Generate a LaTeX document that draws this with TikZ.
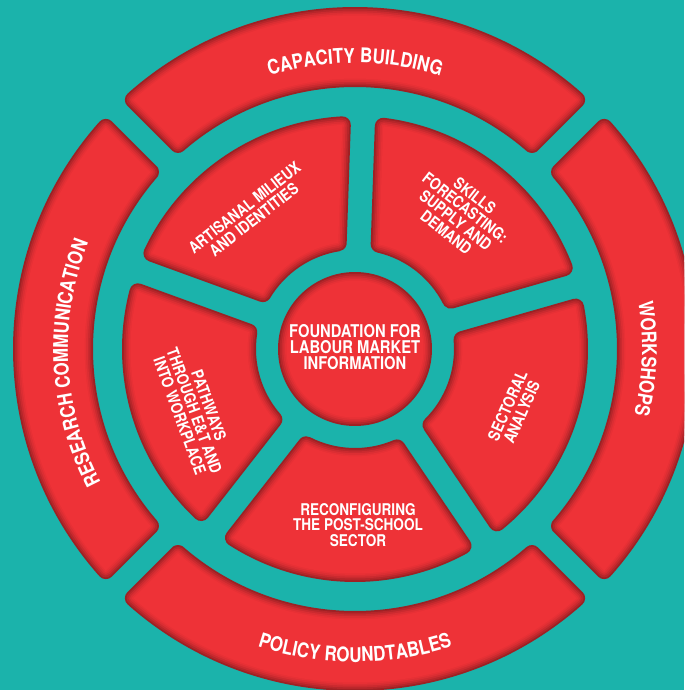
\documentclass[tikz,border=0pt]{standalone}
\usepackage{fontspec}
\setmainfont{TeX Gyre Heros}[FakeStretch=0.84]
\usetikzlibrary{decorations.text}

\definecolor{wheelteal}{HTML}{1BB3AB}
\definecolor{wheelred}{HTML}{EE3237}

\newcommand{\bandfont}{\fontsize{11.5}{12}\selectfont\bfseries}
\newcommand{\hubfont}{\fontsize{9.2}{8.8}\selectfont\bfseries}
\newcommand{\corefont}{\fontsize{10}{9.3}\selectfont\bfseries}

% inner wheel piece between the spokes at #1 and #1+72 (inset, the rim rounds it)
\newcommand{\inseg}[1]{({#1+11}:2.15) -- ({#1+5.24}:4.49) arc[start angle={#1+5.24}, end angle={#1+66.76}, radius=4.49] -- ({#1+61}:2.15) arc[start angle={#1+61}, end angle={#1+11}, radius=2.15] -- cycle}
% outer band piece between the gaps at #1 and #2
\newcommand{\outseg}[2]{({#1+4.13}:5.41) -- ({#1+3.35}:6.67) arc[start angle={#1+3.35}, end angle={#2-3.35}, radius=6.67] -- ({#2-4.13}:5.41) arc[start angle={#2-4.13}, end angle={#1+4.13}, radius=5.41] -- cycle}
% red piece with a dark rim fading inwards
\newcommand{\redpiece}[1]{%
  \draw[rim, line width=0.34cm, draw=wheelred!66!black] #1;
  \draw[rim, line width=0.27cm, draw=wheelred!76!black] #1;
  \draw[rim, line width=0.20cm, draw=wheelred!85!black] #1;
  \draw[rim, line width=0.13cm, draw=wheelred!92!black] #1;
  \draw[rim, line width=0.06cm, draw=wheelred!97!black] #1;
  \fill[wheelred] #1;
}

\tikzset{
  rim/.style={line join=round},
  hubtext/.style={text=white, font=\hubfont, align=center, inner sep=0pt},
  bandtext/.style={decorate, decoration={text along path, text align=center, text color=white, text={|\bandfont|#1}}}
}

\begin{document}
\begin{tikzpicture}
\useasboundingbox (-7.1,-6.82) rectangle (6.58,6.98);
\clip (-7.1,-6.82) rectangle (6.58,6.98);
\fill[wheelteal] (-7.1,-6.82) rectangle (6.58,6.98);

%outer band
\foreach \a in {45,135,225,315}{
  \redpiece{\outseg{\a}{\a+90}}
}

%inner wheel
\foreach \s in {16,88,160,232,304}{
  \redpiece{\inseg{\s}}
}

%hub
\redpiece{(0,0) circle (1.37)}

%labels
\node[hubtext, font=\corefont] (core) at (0,0.04) {FOUNDATION FOR\\LABOUR MARKET\\INFORMATION};
\node[hubtext, rotate=38] (artisanal) at (128:3.44) {ARTISANAL MILIEUX\\AND IDENTITIES};
\node[hubtext, rotate=-38] (skills) at (52:3.43) {SKILLS\\FORECASTING:\\SUPPLY AND\\DEMAND};
\node[hubtext, rotate=-70] (pathways) at (201:3.44) {PATHWAYS\\THROUGH E\&T AND\\INTO WORKPLACE};
\node[hubtext, rotate=66] (sectoral) at (-20.6:3.41) {SECTORAL\\ANALYSIS};
\node[hubtext] (reconfig) at (0.06,-3.52) {RECONFIGURING\\THE POST-SCHOOL\\SECTOR};

\path[bandtext=CAPACITY BUILDING] (150:5.72) arc[start angle=150, end angle=30, radius=5.72];
\path[bandtext=RESEARCH COMMUNICATION] (218:5.74) arc[start angle=218, end angle=148, radius=5.74];
\path[bandtext=WORKSHOPS] (33:5.74) arc[start angle=33, end angle=-37, radius=5.74];
\path[bandtext=POLICY ROUNDTABLES] (225:6.26) arc[start angle=225, end angle=315, radius=6.26];
\end{tikzpicture}
\end{document}
